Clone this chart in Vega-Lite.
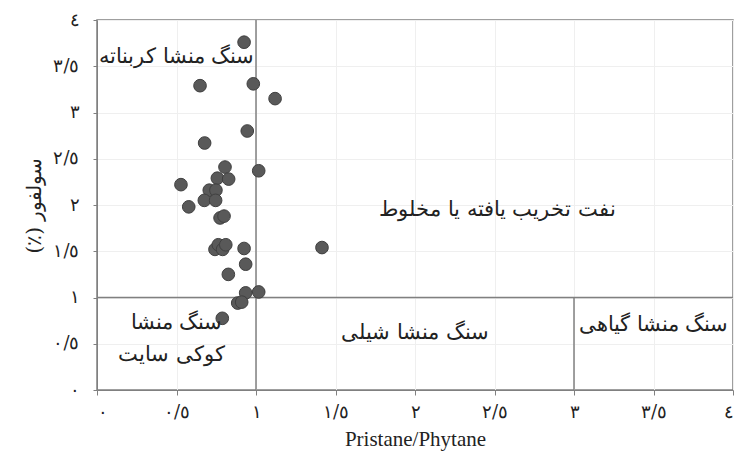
{
  "$schema": "https://vega.github.io/schema/vega-lite/v6.json",
  "autosize": "none",
  "width": 636,
  "height": 370,
  "padding": {"left": 97, "top": 20, "right": 1, "bottom": 62},
  "background": "white",
  "config": {
    "view": {"stroke": "#808080", "strokeWidth": 1.5},
    "axis": {
      "labelFont": "DejaVu Serif",
      "titleFont": "Liberation Serif",
      "labelColor": "#222",
      "titleColor": "#222",
      "gridColor": "#efefef",
      "domainColor": "#808080",
      "tickColor": "#808080"
    }
  },
  "datasets": {
    "pts": [
      {"pr": 0.925, "s": 3.76}, {"pr": 0.648, "s": 3.29}, {"pr": 0.983, "s": 3.31},
      {"pr": 1.12, "s": 3.15}, {"pr": 0.945, "s": 2.8}, {"pr": 0.677, "s": 2.67},
      {"pr": 0.805, "s": 2.41}, {"pr": 1.017, "s": 2.37}, {"pr": 0.757, "s": 2.29},
      {"pr": 0.828, "s": 2.28}, {"pr": 0.528, "s": 2.22}, {"pr": 0.706, "s": 2.16},
      {"pr": 0.748, "s": 2.16}, {"pr": 0.675, "s": 2.05}, {"pr": 0.746, "s": 2.05},
      {"pr": 0.577, "s": 1.98}, {"pr": 0.774, "s": 1.86}, {"pr": 0.799, "s": 1.88},
      {"pr": 0.742, "s": 1.52}, {"pr": 0.763, "s": 1.57}, {"pr": 0.79, "s": 1.52},
      {"pr": 0.81, "s": 1.57}, {"pr": 0.925, "s": 1.53}, {"pr": 1.415, "s": 1.54},
      {"pr": 0.935, "s": 1.36}, {"pr": 0.826, "s": 1.25}, {"pr": 0.935, "s": 1.05},
      {"pr": 1.017, "s": 1.06}, {"pr": 0.885, "s": 0.94}, {"pr": 0.91, "s": 0.95},
      {"pr": 0.788, "s": 0.775}
    ],
    "lines": [
      {"x1": 1, "x2": 1, "y1": 0, "y2": 4},
      {"x1": 0, "x2": 4, "y1": 1, "y2": 1},
      {"x1": 3, "x2": 3, "y1": 0, "y2": 1}
    ],
    "labels": [
      {"x": 0.5, "y": 3.6, "t": "سنگ منشا کربناته"},
      {"x": 2.52, "y": 1.95, "t": "نفت تخریب یافته یا مخلوط"},
      {"x": 0.5, "y": 0.72, "t": "سنگ منشا"},
      {"x": 0.47, "y": 0.38, "t": "کوکی سایت"},
      {"x": 2.0, "y": 0.62, "t": "سنگ منشا شیلی"},
      {"x": 3.5, "y": 0.7, "t": "سنگ منشا گیاهی"}
    ]
  },
  "layer": [
    {
      "data": {"name": "lines"},
      "mark": {"type": "rule", "color": "#808080", "strokeWidth": 1.5},
      "encoding": {
        "x": {"field": "x1", "type": "quantitative", "scale": {"domain": [0, 4]},
          "axis": {
            "values": [0, 0.5, 1, 1.5, 2, 2.5, 3, 3.5, 4],
            "labelExpr": "datum.value == 0 ? '٠' : datum.value == 0.5 ? '٠/٥' : datum.value == 1 ? '١' : datum.value == 1.5 ? '١/٥' : datum.value == 2 ? '٢' : datum.value == 2.5 ? '٢/٥' : datum.value == 3 ? '٣' : datum.value == 3.5 ? '٣/٥' : '٤'",
            "labelFontSize": 18, "labelPadding": 8, "tickSize": 5,
            "title": "Pristane/Phytane", "titleFontSize": 21, "titleFontWeight": "normal", "titlePadding": 7,
            "grid": true
          }},
        "x2": {"field": "x2"},
        "y": {"field": "y1", "type": "quantitative", "scale": {"domain": [0, 4]},
          "axis": {
            "values": [0, 0.5, 1, 1.5, 2, 2.5, 3, 3.5, 4],
            "labelExpr": "datum.value == 0 ? '٠' : datum.value == 0.5 ? '٠/٥' : datum.value == 1 ? '١' : datum.value == 1.5 ? '١/٥' : datum.value == 2 ? '٢' : datum.value == 2.5 ? '٢/٥' : datum.value == 3 ? '٣' : datum.value == 3.5 ? '٣/٥' : '٤'",
            "labelFontSize": 18, "labelPadding": 14, "tickSize": 4,
            "title": "(٪) سولفور", "titleFont": "DejaVu Serif", "titleFontSize": 20, "titleFontWeight": "normal", "titlePadding": 8,
            "grid": true
          }},
        "y2": {"field": "y2"}
      }
    },
    {
      "data": {"name": "pts"},
      "mark": {"type": "circle", "size": 160, "color": "#595959", "opacity": 1, "stroke": "#404040", "strokeWidth": 1},
      "encoding": {
        "x": {"field": "pr", "type": "quantitative"},
        "y": {"field": "s", "type": "quantitative"}
      }
    },
    {
      "data": {"name": "labels"},
      "mark": {"type": "text", "font": "DejaVu Serif", "fontSize": 21, "color": "#222", "align": "center", "baseline": "middle"},
      "encoding": {
        "x": {"field": "x", "type": "quantitative"},
        "y": {"field": "y", "type": "quantitative"},
        "text": {"field": "t"}
      }
    }
  ]
}
